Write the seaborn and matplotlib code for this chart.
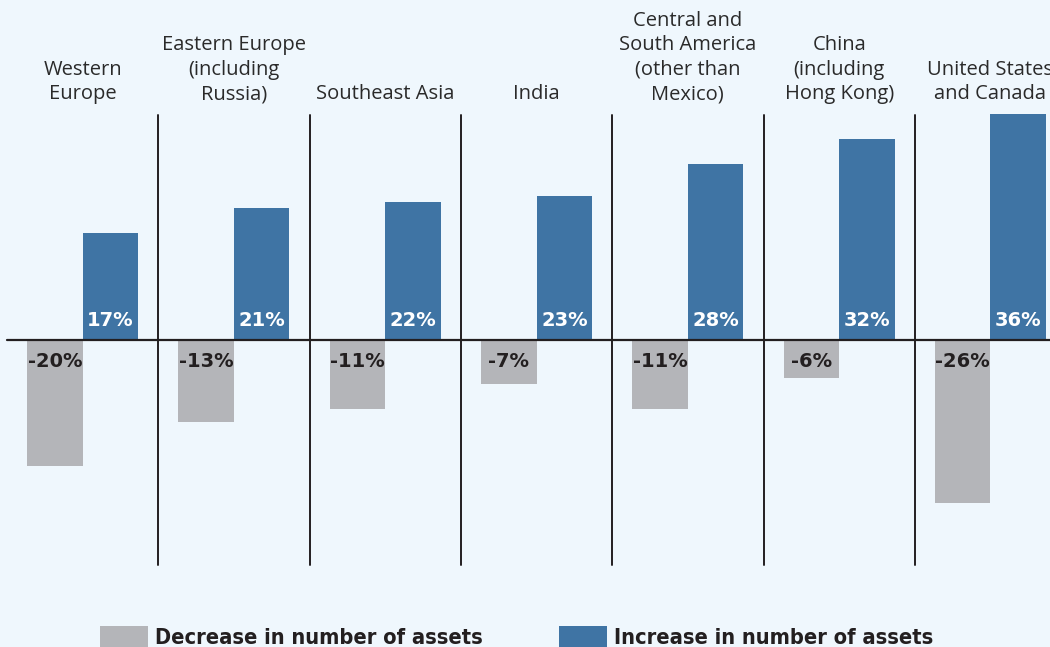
import matplotlib
matplotlib.use("Agg")
import matplotlib.pyplot as plt
import seaborn as sns
import pandas as pd
from matplotlib import font_manager
from matplotlib.font_manager import FontProperties

regions = ["Western\nEurope", "Eastern Europe\n(including\nRussia)", "Southeast Asia", "India",
           "Central and\nSouth America\n(other than\nMexico)", "China\n(including\nHong Kong)",
           "United States\nand Canada"]
decrease = [-20, -13, -11, -7, -11, -6, -26]
increase = [17, 21, 22, 23, 28, 32, 36]
series_names = ["Decrease in number of assets", "Increase in number of assets"]

BG = "#EFF7FD"
GRAY = "#B4B5B9"
BLUE = "#3F74A4"
INK = "#231F20"

sns.set_theme(style="white")
plt.rcParams["font.family"] = ["Open Sans", "DejaVu Sans"]

# pick a condensed bold face for the legend if one is installed
def _is_bold(w):
    try:
        return int(w) >= 600
    except (TypeError, ValueError):
        return str(w).lower() in ("bold", "heavy", "black", "demibold", "semibold", "extra bold")

cands = [f for f in font_manager.fontManager.ttflist
         if _is_bold(f.weight) and f.style == "normal" and
         ("condensed" in str(f.stretch).lower() or "Condensed" in f.fname or "Narrow" in f.fname)]
cands.sort(key=lambda f: (0 if "Semi" not in f.fname else 1, f.fname))
if cands:
    leg_prop = FontProperties(fname=cands[0].fname)
else:
    leg_prop = FontProperties(family="Roboto", weight="bold")

df = pd.DataFrame({
    "region": regions * 2,
    "value": decrease + increase,
    "kind": [series_names[0]] * len(regions) + [series_names[1]] * len(regions),
})

fig = plt.figure(figsize=(10.5, 6.47), dpi=100)
fig.patch.set_facecolor(BG)
ax = fig.add_axes([0, 0, 1, 1])
ax.set_facecolor(BG)

sns.barplot(data=df, x="region", y="value", hue="kind", order=regions,
            hue_order=series_names, palette=[GRAY, BLUE], saturation=1,
            width=0.734, linewidth=0, ax=ax)

px_per_unit = 151.3
px_per_pct = 6.28
ax.set_xlim(-0.5 - 7 / px_per_unit, -0.5 + 1043 / px_per_unit)
ax.set_ylim(-307 / px_per_pct, 340 / px_per_pct)
ax.axis("off")

# zero line and separators
ax.plot([-0.5, len(regions)], [0, 0], color=INK, lw=1.6, zorder=5)
for i in range(len(regions) - 1):
    ax.plot([i + 0.5, i + 0.5], [-35.8, 35.8], color=INK, lw=1.4, zorder=5)

# category labels
for i, r in enumerate(regions):
    ax.text(i, 37.5, r, ha="center", va="bottom", fontsize=14.5, color="#2A2A2A",
            linespacing=1.3)

# value labels
for cont, col, ypos in zip(ax.containers, [INK, "white"], [-3.5, 3.05]):
    for bar, v in zip(cont, cont.datavalues):
        ax.text(bar.get_x() + bar.get_width() / 2, ypos, f"{v:.0f}%", ha="center",
                va="center", fontsize=14, fontweight="bold", color=col, zorder=6,
                family="DejaVu Sans")

# fit legend font so the label is ~328 px wide (capped at ~26 px)
renderer = fig.canvas.get_renderer()
probe = fig.text(0, 0, series_names[0], fontproperties=leg_prop, fontsize=19)
w = probe.get_window_extent(renderer).width
probe.remove()
leg_size = min(19.0, 19.0 * 328.0 / w)
size_px = leg_size * 100 / 72
leg_prop.set_size(leg_size)

sns.move_legend(ax, loc="upper left", bbox_to_anchor=(100 / 1050, 1 - 626 / 647),
                bbox_transform=fig.transFigure, ncol=2, frameon=False, title=None,
                handlelength=48 / size_px, handleheight=1.2, handletextpad=7 / size_px,
                columnspacing=76 / size_px, borderpad=0, borderaxespad=0,
                prop=leg_prop)
for t in ax.get_legend().get_texts():
    t.set_color(INK)

fig.savefig("out.png", dpi=100, facecolor=BG)
